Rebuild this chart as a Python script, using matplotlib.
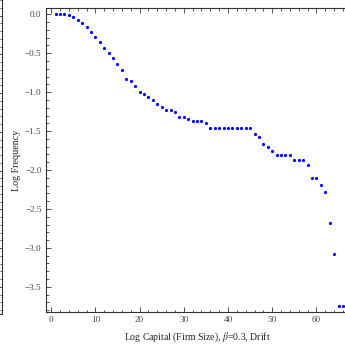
import matplotlib
matplotlib.use("Agg")
import matplotlib.pyplot as plt
from matplotlib.ticker import MultipleLocator
import numpy as np

# log capital (firm size) and log frequency
log_capital = list(range(1, 67))
log_freq = [
  0.0, 0.0, 0.0, -0.01, -0.033, -0.069, -0.107, -0.167, -0.231, -0.296,
  -0.36, -0.437, -0.503, -0.557, -0.634, -0.711, -0.828, -0.856, -0.925, -0.993,
  -1.03, -1.062, -1.1, -1.15, -1.19, -1.23, -1.23, -1.252, -1.318, -1.318,
  -1.348, -1.368, -1.368, -1.368, -1.39, -1.462, -1.462, -1.462, -1.462, -1.462,
  -1.462, -1.462, -1.462, -1.462, -1.462, -1.543, -1.582, -1.66, -1.708, -1.76,
  -1.812, -1.812, -1.812, -1.812, -1.875, -1.875, -1.875, -1.942, -2.097, -2.097,
  -2.187, -2.283, -2.683, -3.073, -3.745, -3.745,
]
x_ticks = [0, 10, 20, 30, 40, 50, 60]
y_ticks = [0.0, -0.5, -1.0, -1.5, -2.0, -2.5, -3.0, -3.5]

plt.rcParams['font.family'] = ['Liberation Serif', 'DejaVu Serif']
plt.rcParams['mathtext.fontset'] = 'stix'

W, H = 345, 351
fig = plt.figure(figsize=(W / 100, H / 100), dpi=100)

left_px, right_px, top_px, bottom_px = 45.7, 350, 8.3, 311.7
ax = fig.add_axes([left_px / W, 1 - bottom_px / H,
                   (right_px - left_px) / W, (bottom_px - top_px) / H])

ax.plot(log_capital, log_freq, 'o', color='#0000ff', markersize=2.3,
        markeredgewidth=0, clip_on=False)

ax.set_xlim(-1.24, 67.6)
ax.set_ylim(-3.82, 0.077)
ax.set_xticks(x_ticks)
ax.set_yticks(y_ticks)
ax.xaxis.set_minor_locator(MultipleLocator(2))
ax.yaxis.set_minor_locator(MultipleLocator(0.1))
ax.tick_params(which='both', direction='in', top=True, right=False,
               color='#333333', width=0.6, labelsize=6.6, labelcolor='#444444', pad=3)
ax.tick_params(which='major', length=3.5)
ax.tick_params(which='minor', length=1.8)
ax.set_xticklabels([str(t) for t in x_ticks])
ax.set_yticklabels([f"{t:.1f}".replace('-', '\u2212') for t in y_ticks])
for side in ['left', 'bottom', 'top']:
  ax.spines[side].set_color('#333333')
  ax.spines[side].set_linewidth(0.8)
ax.spines['right'].set_visible(False)

ax.set_xlabel(r"Log Capital (Firm Size), $\beta$=0.3, Drift", fontsize=7,
              color='#222222', labelpad=5)
ax.set_ylabel("Log Frequency", fontsize=7.2, color='#222222', labelpad=3)

# edge of the neighbouring panel on the left
nb = fig.add_axes([-0.3, 1 - 314 / H, 0.3 + 2 / W, (314 - 0) / H])
nb.set_xlim(0, 1)
nb.set_ylim(-3.85, 0.2)
nb.set_xticks([])
nb.yaxis.tick_right()
nb.yaxis.set_major_locator(MultipleLocator(0.5))
nb.yaxis.set_minor_locator(MultipleLocator(0.1))
nb.tick_params(which='both', direction='in', labelright=False, color='#333333', width=0.6)
nb.tick_params(which='major', length=3.5)
nb.tick_params(which='minor', length=1.8)
for side in ['left', 'top']:
  nb.spines[side].set_visible(False)
for side in ['right', 'bottom']:
  nb.spines[side].set_color('#333333')
  nb.spines[side].set_linewidth(0.8)

fig.savefig("out.png", dpi=100)
